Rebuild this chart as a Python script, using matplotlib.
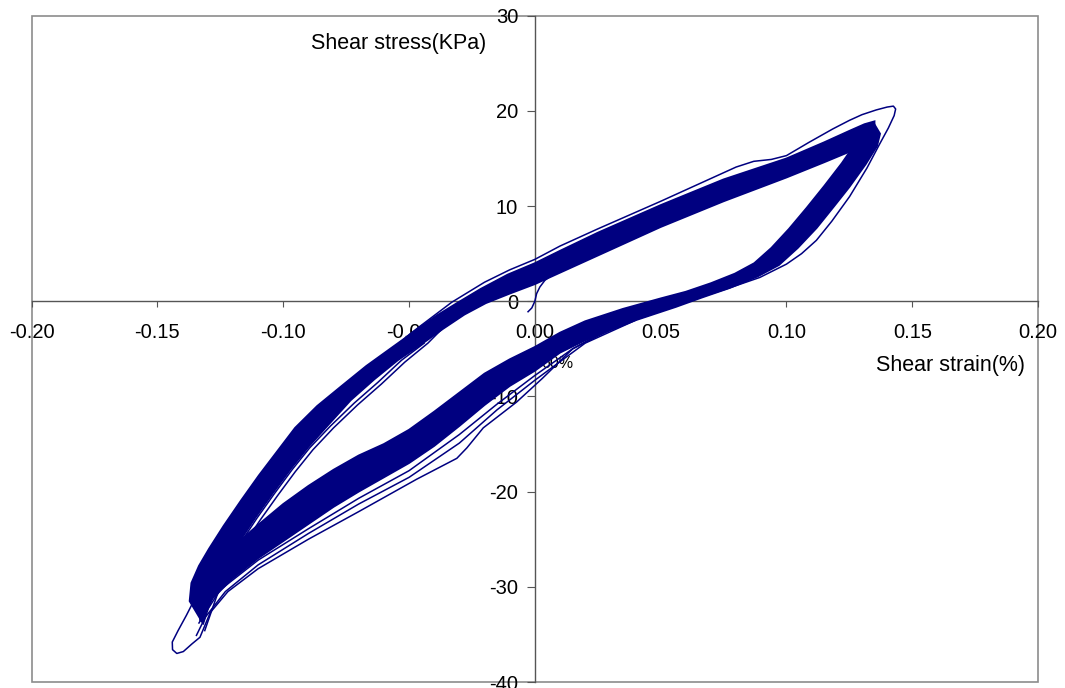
import matplotlib
matplotlib.use('Agg')
import matplotlib.pyplot as plt
from matplotlib.patches import Rectangle

plt.rcParams['font.family'] = ['Liberation Sans', 'DejaVu Sans']

navy = '#000080'

# dense band of the loading branches (upper-left edge / lower-right edge)
load_up_x = [-0.1372, -0.1365, -0.1335, -0.1295, -0.1237, -0.1167, -0.1097, -0.1025, -0.0953,
             -0.0865, -0.0768, -0.0670, -0.0565, -0.0470, -0.0390, -0.0310, -0.0215, -0.0108,
             0.0000, 0.0100, 0.0250, 0.0500, 0.0750, 0.1000, 0.1150, 0.1250, 0.1310, 0.1350]
load_up_y = [-31.5, -29.6, -27.8, -26.0, -23.6, -20.9, -18.3, -15.8, -13.3,
             -11.0, -8.9, -6.8, -4.8, -3.0, -1.5, -0.2, 1.3, 2.8,
             4.0, 5.3, 7.2, 10.1, 12.8, 15.0, 16.7, 17.9, 18.6, 18.9]
load_lo_x = [-0.1320, -0.1280, -0.1240, -0.1180, -0.1110, -0.1040, -0.0970, -0.0900, -0.0818,
             -0.0732, -0.0638, -0.0545, -0.0450, -0.0365, -0.0280, -0.0195, -0.0100, 0.0000,
             0.0100, 0.0250, 0.0500, 0.0750, 0.1000, 0.1150, 0.1250, 0.1310, 0.1350]
load_lo_y = [-33.8, -30.2, -28.0, -25.5, -22.7, -20.1, -17.6, -15.3, -12.9,
             -10.4, -8.2, -6.2, -4.5, -2.9, -1.4, -0.2, 0.8, 1.8,
             3.0, 4.8, 7.8, 10.5, 13.0, 14.6, 15.7, 16.4, 16.9]

# dense band of the unloading branches (inner edge / outer edge)
unload_in_x = [0.1345, 0.1310, 0.1280, 0.1220, 0.1150, 0.1080, 0.1010, 0.0940, 0.0872, 0.0795,
               0.0700, 0.0600, 0.0500, 0.0350, 0.0200, 0.0100, 0.0000, -0.0100, -0.0200, -0.0300,
               -0.0400, -0.0500, -0.0600, -0.0700, -0.0800, -0.0900, -0.1000, -0.1100, -0.1200,
               -0.1280, -0.1340]
unload_in_y = [18.8, 18.0, 16.8, 14.5, 12.1, 9.8, 7.6, 5.6, 4.0, 2.9,
               1.9, 1.0, 0.3, -0.8, -2.1, -3.3, -4.8, -6.1, -7.6, -9.6,
               -11.6, -13.5, -15.0, -16.2, -17.7, -19.4, -21.3, -23.5, -25.8,
               -27.9, -29.7]
unload_out_x = [0.1372, 0.1360, 0.1315, 0.1250, 0.1190, 0.1120, 0.1045, 0.0970, 0.0885, 0.0775,
                0.0665, 0.0560, 0.0400, 0.0200, 0.0100, 0.0000, -0.0100, -0.0200, -0.0300, -0.0400,
                -0.0500, -0.0600, -0.0700, -0.0800, -0.0900, -0.1000, -0.1100, -0.1200, -0.1280,
                -0.1330]
unload_out_y = [17.6, 16.3, 14.4, 12.0, 10.0, 7.7, 5.6, 3.8, 2.6, 1.4,
                0.4, -0.6, -2.0, -4.1, -5.4, -7.3, -8.9, -10.9, -13.1, -15.2,
                -17.0, -18.5, -20.0, -21.6, -23.4, -25.2, -27.0, -29.1, -31.2,
                -33.6]

# first loading from the origin
first_x = [-0.0027, -0.0012, 0.0000, 0.0007, 0.0020, 0.0040, 0.0070, 0.0110, 0.0160]
first_y = [-1.1, -0.7, 0.0, 0.8, 1.5, 2.2, 2.8, 3.4, 4.0]

# outer cycle with the largest positive peak
outer_x = [-0.0680, -0.0495, -0.0330, -0.0200, -0.0100, 0.0000, 0.0100, 0.0250, 0.0500, 0.0700,
           0.0800, 0.0870, 0.0940, 0.1000, 0.1090, 0.1184, 0.1250, 0.1300, 0.1357, 0.1400,
           0.1425, 0.1434, 0.1428, 0.1405, 0.1370, 0.1320, 0.1251, 0.1180, 0.1119, 0.1060,
           0.1000, 0.0894, 0.0762, 0.0630, 0.0500, 0.0300, 0.0150, 0.0000]
outer_y = [-7.6, -3.4, -0.1, 2.0, 3.3, 4.4, 5.8, 7.6, 10.5, 12.9,
           14.1, 14.7, 14.9, 15.3, 16.7, 18.1, 19.0, 19.6, 20.1, 20.4,
           20.5, 20.2, 19.5, 18.2, 16.5, 14.0, 11.0, 8.4, 6.4, 5.0,
           3.9, 2.5, 1.3, 0.2, -0.8, -2.5, -3.9, -5.6]

# lowest unloading line and the loop with the largest negative peak
low1_x = [0.0450, 0.0300, 0.0150, 0.0030, -0.0073, -0.0205, -0.0270, -0.0310, -0.0470, -0.0700,
          -0.0900, -0.1100, -0.1220, -0.1290, -0.1331, -0.1363, -0.1397, -0.1423, -0.1440,
          -0.1441, -0.1418, -0.1385, -0.1358, -0.1340, -0.1300, -0.1240, -0.1170]
low1_y = [-1.5, -2.8, -5.0, -8.1, -10.6, -13.3, -15.4, -16.5, -18.7, -22.1,
          -25.0, -28.1, -30.5, -32.7, -35.3, -36.0, -36.8, -37.0, -36.6,
          -35.8, -34.6, -33.0, -31.6, -30.0, -28.0, -25.4, -22.6]
low2_x = [0.0400, 0.0200, 0.0000, -0.0150, -0.0300, -0.0500, -0.0700, -0.0900, -0.1100,
          -0.1230, -0.1310, -0.1345]
low2_y = [-2.0, -4.4, -8.3, -11.4, -14.9, -18.5, -21.3, -24.4, -27.7,
          -30.5, -33.2, -35.1]
low3_x = [0.0300, 0.0150, 0.0000, -0.0150, -0.0300, -0.0500, -0.0700, -0.0900, -0.1100,
          -0.1250, -0.1335]
low3_y = [-3.0, -5.0, -7.8, -10.8, -14.0, -17.8, -20.7, -23.9, -27.2,
          -30.3, -33.8]

# thin loading lines right of the dense band
in1_x = [-0.1312, -0.1262, -0.1222, -0.1162, -0.1092, -0.1022, -0.0952, -0.0882, -0.0800,
         -0.0705, -0.0610, -0.0517, -0.0425, -0.0365]
in1_y = [-34.6, -30.8, -28.4, -25.8, -23.0, -20.4, -17.9, -15.6, -13.3,
         -10.9, -8.7, -6.4, -4.4, -2.8]
in2_x = [-0.1318, -0.1275, -0.1235, -0.1175, -0.1105, -0.1035, -0.0965, -0.0895, -0.0812,
         -0.0718, -0.0623, -0.0530, -0.0440]
in2_y = [-33.9, -30.4, -28.1, -25.6, -22.8, -20.2, -17.7, -15.4, -13.1,
         -10.7, -8.5, -6.2, -4.4]

xticks = [-0.20, -0.15, -0.10, -0.05, 0.00, 0.05, 0.10, 0.15, 0.20]
yticks = [-40, -30, -20, -10, 0, 10, 20, 30]

fig = plt.figure(figsize=(10.65, 6.88), dpi=100)
ax = fig.add_axes([0.0297, 0.0087, 0.9450, 0.9685])

ax.fill(load_up_x + load_lo_x[::-1], load_up_y + load_lo_y[::-1],
        facecolor=navy, edgecolor=navy, lw=1.3, zorder=3)
ax.fill(unload_in_x + unload_out_x[::-1], unload_in_y + unload_out_y[::-1],
        facecolor=navy, edgecolor=navy, lw=1.3, zorder=3)

for xs, ys in [(first_x, first_y), (outer_x, outer_y), (low1_x, low1_y),
               (low2_x, low2_y), (low3_x, low3_y), (in1_x, in1_y), (in2_x, in2_y)]:
    ax.plot(xs, ys, color=navy, lw=1.1, zorder=3)

ax.set_xlim(-0.2, 0.2)
ax.set_ylim(-40, 30)
ax.set_xticks(xticks)
ax.set_yticks(yticks)
ax.set_xticklabels(['%.2f' % v for v in xticks])
ax.set_yticklabels([str(v) for v in yticks])

ax.spines['left'].set_position(('data', 0))
ax.spines['bottom'].set_position(('data', 0))
ax.spines['top'].set_visible(False)
ax.spines['right'].set_visible(False)
for s in ['left', 'bottom']:
    ax.spines[s].set_color('#555555')
    ax.spines[s].set_linewidth(1.0)
    ax.spines[s].set_zorder(2)

ax.add_patch(Rectangle((0, 0), 1, 1, transform=ax.transAxes, fill=False,
                       edgecolor='#8c8c8c', lw=1.2, clip_on=False, zorder=1))

ax.tick_params(axis='x', direction='out', length=4, width=0.8, pad=12,
               labelsize=14.5, color='#555555')
ax.tick_params(axis='y', direction='out', length=6, width=0.8, pad=6,
               labelsize=14.5, color='#555555')

ax.text(-0.0195, 27.1, 'Shear stress(KPa)', ha='right', va='center', fontsize=15.5)
ax.text(0.1947, -6.7, 'Shear strain(%)', ha='right', va='center', fontsize=15.5)
ax.text(0.0027, -6.5, '60%', ha='left', va='center', fontsize=11.5, zorder=2)

fig.savefig('out.png', dpi=100)
